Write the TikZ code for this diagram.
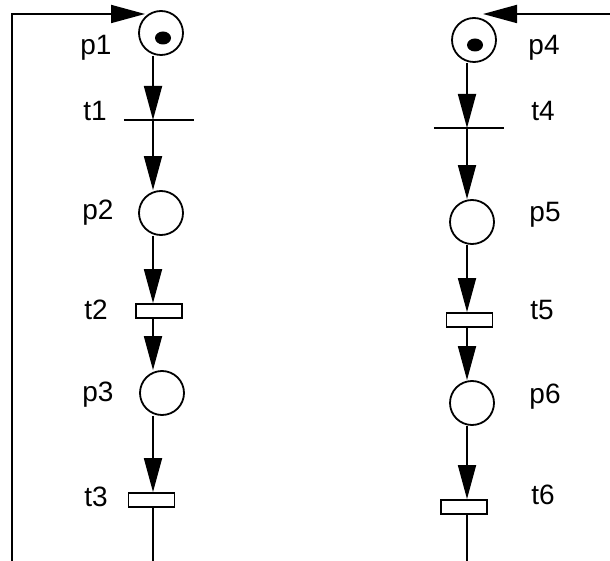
\documentclass[tikz,border=0pt]{standalone}
\usepackage{fontspec}
\setmainfont{Liberation Sans}
\usetikzlibrary{arrows.meta}
\tikzset{
  net/.style={line width=1.8pt},
  place/.style={net, circle, draw, minimum size=44pt, inner sep=0pt},
  bar/.style={minimum width=70pt, minimum height=0pt, inner sep=0pt},
  trans/.style={net, rectangle, draw, fill=white, minimum width=46pt, minimum height=14pt, inner sep=0pt},
  lbl/.style={font=\fontsize{28}{32}\selectfont, inner sep=0pt},
  arc/.style={net, -{Triangle[length=34pt,width=18pt]}},
}
\begin{document}
\begin{tikzpicture}[x=1pt,y=-1pt]
  \useasboundingbox (0,0) rectangle (610,561);
  % x of the arcs in each net
  \coordinate (L) at (153,0);
  \coordinate (R) at (467,0);
  % left net
  \node[place] (p1) at (161,33) {};
  \node[bar] (t1) at (159,120) {};
  \node[place] (p2) at (161,213) {};
  \node[trans] (t2) at (159,311) {};
  \node[place] (p3) at (162,393) {};
  \node[trans] (t3) at (151.5,500) {};
  % right net
  \node[place] (p4) at (474,40) {};
  \node[bar] (t4) at (469,128) {};
  \node[place] (p5) at (472,222) {};
  \node[trans] (t5) at (469.5,320) {};
  \node[place] (p6) at (472,403) {};
  \node[trans] (t6) at (464,507) {};
  \draw[net] (t1.west) -- (t1.east);
  \draw[net] (t4.west) -- (t4.east);
  % tokens
  \fill ([shift={(2,5)}]p1.center) ellipse [x radius=8pt, y radius=6.5pt];
  \fill ([shift={(1,5)}]p4.center) ellipse [x radius=8pt, y radius=6.5pt];
  % labels
  \node[lbl] (lp1) at (96,48) {p1};
  \node[lbl] (lt1) at (95,111) {t1};
  \node[lbl] (lp2) at (98,213) {p2};
  \node[lbl] (lt2) at (96,310) {t2};
  \node[lbl] (lp3) at (98,395) {p3};
  \node[lbl] (lt3) at (96,497) {t3};
  \node[lbl] (lp4) at (544,48) {p4};
  \node[lbl] (lt4) at (543,111) {t4};
  \node[lbl] (lp5) at (545,215) {p5};
  \node[lbl] (lt5) at (542,310) {t5};
  \node[lbl] (lp6) at (545,397) {p6};
  \node[lbl] (lt6) at (543,495) {t6};
  % arcs of the left net
  \draw[arc] (p1.south -| L) -- (t1 -| L);
  \draw[arc] (t1 -| L) -- (p2.north -| L);
  \draw[arc] (p2.south -| L) -- (t2.north -| L);
  \draw[arc] (t2.south -| L) -- (p3.north -| L);
  \draw[arc] (p3.south -| L) -- (t3.north -| L);
  \coordinate (Lb) at (153,561);
  \draw[net] (t3.south -| L) -- (Lb);
  % arcs of the right net
  \draw[arc] (p4.south -| R) -- (t4 -| R);
  \draw[arc] (t4 -| R) -- (p5.north -| R);
  \draw[arc] (p5.south -| R) -- (t5.north -| R);
  \draw[arc] (t5.south -| R) -- (p6.north -| R);
  \draw[arc] (p6.south -| R) -- (t6.north -| R);
  \coordinate (Rb) at (467,561);
  \draw[net] (t6.south -| R) -- (Rb);
  % feedback into p1 and p4
  \coordinate (fl) at (12,561);
  \coordinate (in1) at (145,14);
  \draw[arc] (fl) |- (in1);
  \coordinate (fr) at (610,14);
  \coordinate (in4) at (483,14);
  \draw[arc] (fr) -- (in4);
\end{tikzpicture}
\end{document}
